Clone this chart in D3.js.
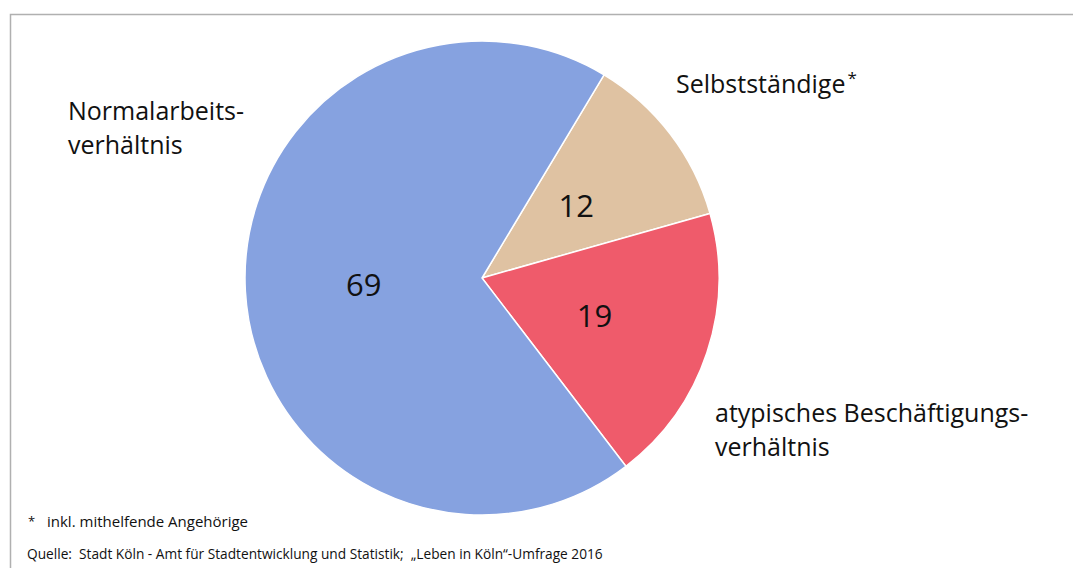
<!DOCTYPE html>
<html><head><meta charset="utf-8">
<script src="https://cdn.jsdelivr.net/npm/d3@7"></script>
<style>html,body{margin:0;padding:0;background:#fff;}svg{display:block;}text{white-space:pre;}</style>
</head><body>
<svg id="chart" width="1073" height="568"></svg>
<script>
const categories = ["Selbstständige", "atypisches Beschäftigungsverhältnis", "Normalarbeitsverhältnis"];
const values = [12, 19, 69];
const colors = ["#dfc2a2", "#ef5b6b", "#86a2e0"];
const labelLines = [["Selbstständige"], ["atypisches Beschäftigungs-", "verhältnis"], ["Normalarbeits-", "verhältnis"]];
const footnote = "inkl. mithelfende Angehörige";
const source = "Quelle:  Stadt Köln - Amt für Stadtentwicklung und Statistik;  „Leben in Köln“-Umfrage 2016";

const svg = d3.select("#chart");
const font = "'Open Sans', sans-serif";

// frame
svg.append("path").attr("d", "M10.5,568 L10.5,14.5 L1073,14.5")
  .attr("fill", "none").attr("stroke", "#b0b0b0").attr("stroke-width", 1.5);

const cx = 482, cy = 278, r = 237;
const start = 31 * Math.PI / 180;
const pie = d3.pie().sort(null).startAngle(start).endAngle(start + 2 * Math.PI);
const arcs = pie(values);
const arc = d3.arc().innerRadius(0).outerRadius(r);
const g = svg.append("g").attr("transform", `translate(${cx},${cy})`);
g.selectAll("path.slice").data(arcs).join("path")
  .attr("class", "slice")
  .attr("d", arc)
  .attr("fill", (d, i) => colors[i])
  .attr("stroke", "#fff").attr("stroke-width", 1.5);

g.selectAll("text.val").data(arcs).join("text")
  .attr("class", "val")
  .attr("transform", d => `translate(${arc.centroid(d)})`)
  .attr("text-anchor", "middle").attr("dy", "0.36em")
  .attr("font-family", font).attr("font-size", 31).attr("fill", "#111")
  .text(d => d.data);

// category labels
const labelPos = [[676, 93], [715, 422], [68, 120]];
labelLines.forEach((lines, i) => {
  const t = svg.append("text").attr("x", labelPos[i][0]).attr("y", labelPos[i][1])
    .attr("font-family", font).attr("font-size", 25).attr("fill", "#111");
  lines.forEach((l, j) => {
    t.append("tspan").attr("x", labelPos[i][0]).attr("dy", j === 0 ? 0 : 34).text(l);
  });
  if (i === 0) {
    t.append("tspan").attr("dx", 2).attr("dy", -9).attr("font-size", 17).text("*");
  }
});

svg.append("text").attr("x", 28).attr("y", 526).attr("font-family", font).attr("font-size", 13).attr("fill", "#111").text("*");
svg.append("text").attr("x", 47).attr("y", 527).attr("font-family", font).attr("font-size", 15).attr("fill", "#111").text(footnote);
svg.append("text").attr("x", 27).attr("y", 559).attr("font-family", font).attr("font-size", 13.7).attr("fill", "#111").text(source);
</script>
</body></html>
